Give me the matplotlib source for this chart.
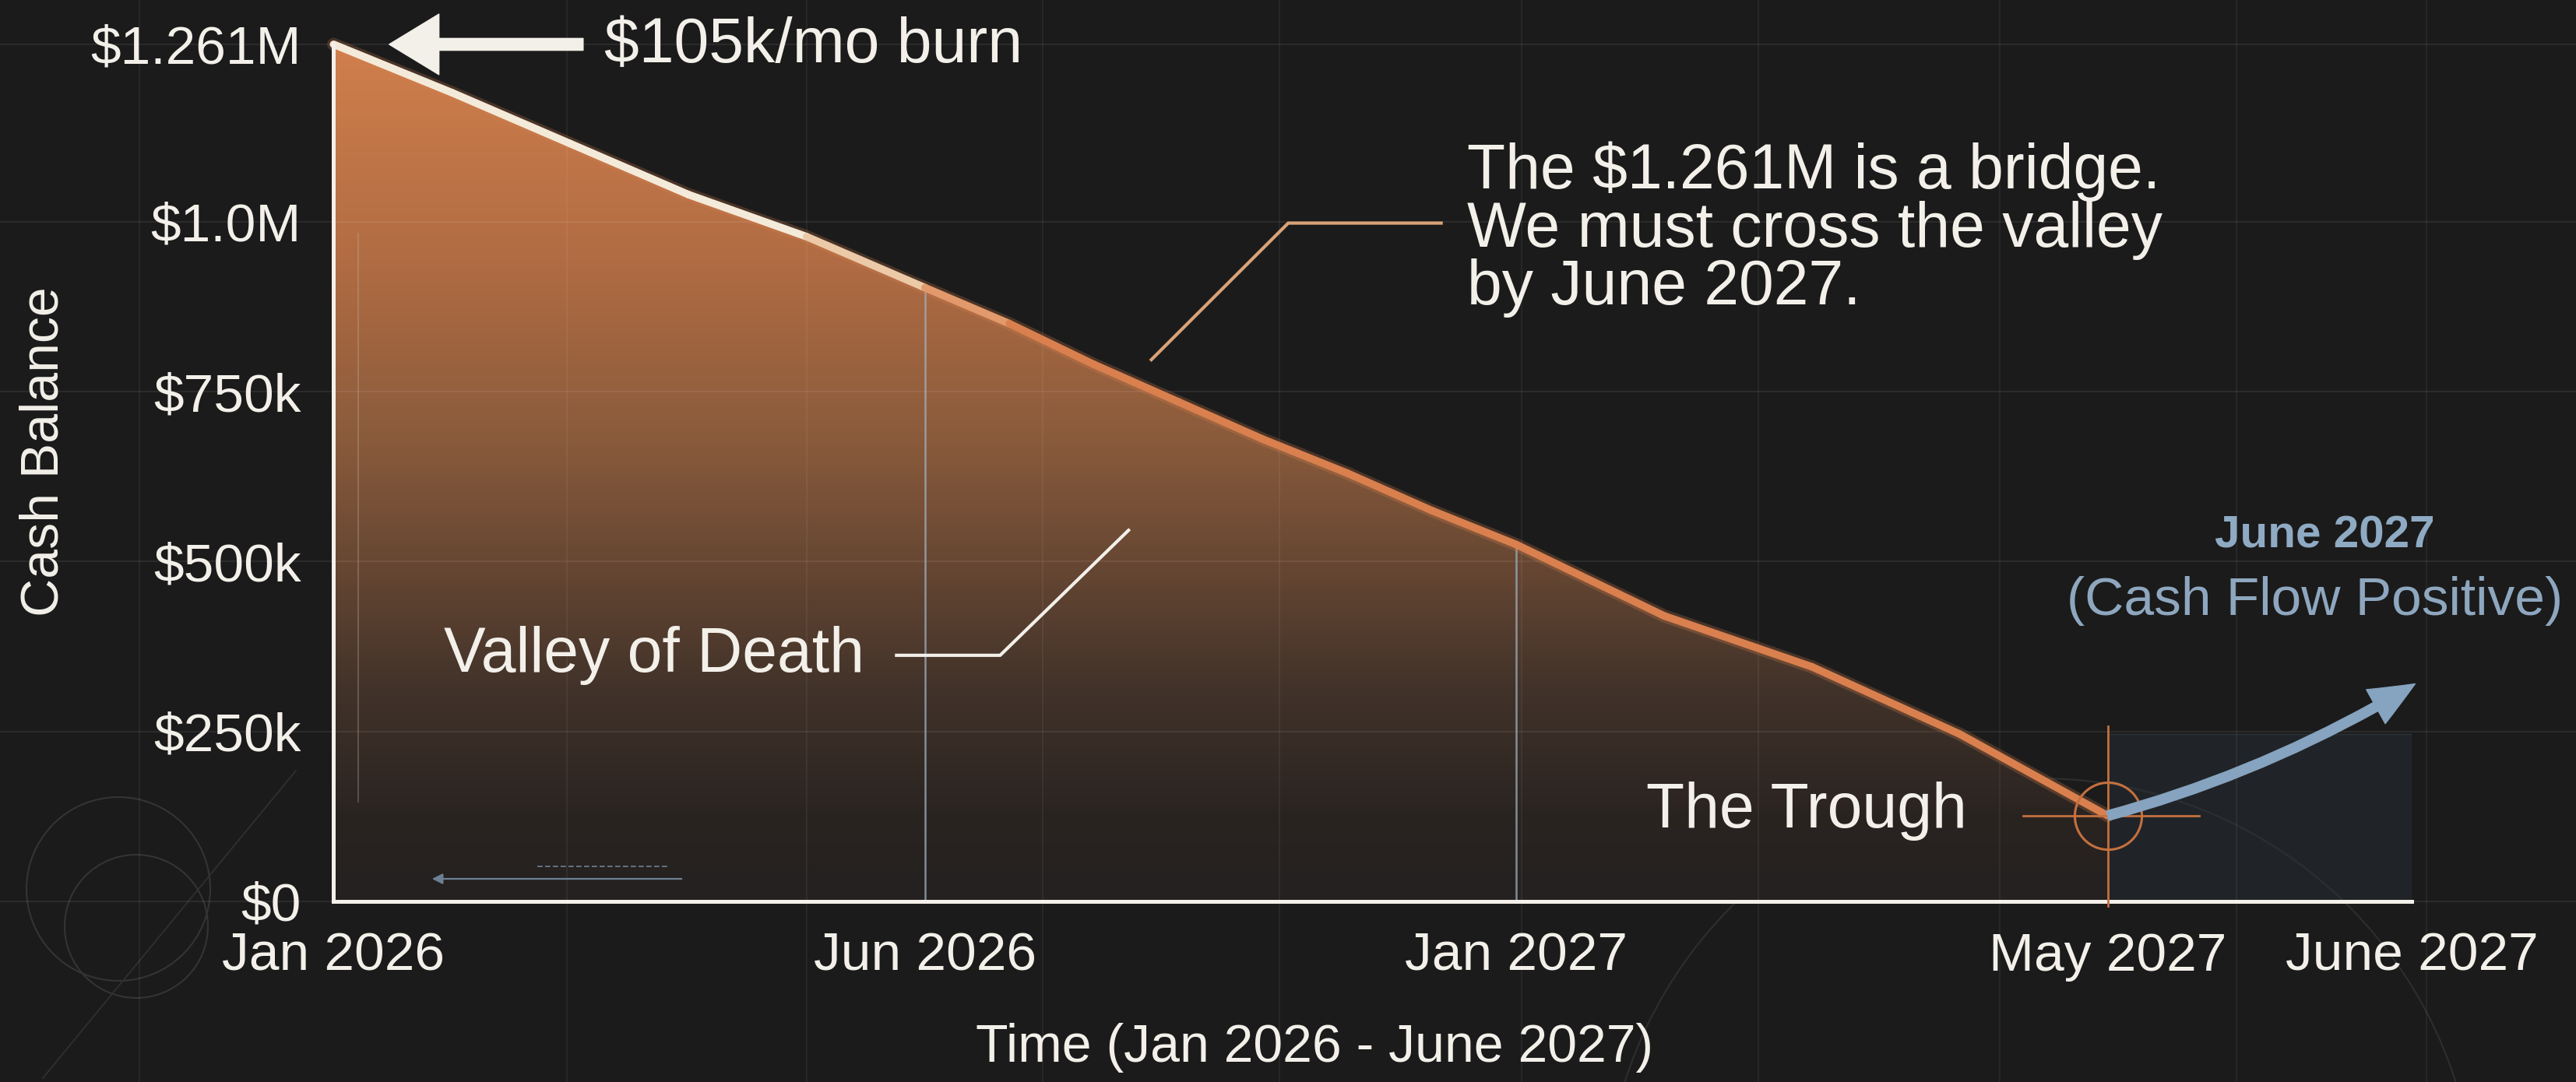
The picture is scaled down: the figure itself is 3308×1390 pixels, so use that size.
import numpy as np
import matplotlib
matplotlib.use('Agg')
import matplotlib.pyplot as plt
from matplotlib.patches import FancyArrowPatch, Circle, Rectangle, Polygon
from matplotlib.collections import LineCollection
from matplotlib.colors import LinearSegmentedColormap

plt.rcParams['font.family'] = ['Liberation Sans', 'DejaVu Sans']

# --- data (cash balance in $M, month 0 = Jan 2026) ---
months = [0, 1, 2, 3, 4, 5, 6, 7, 8, 9, 10, 11, 12, 13, 14, 15, 16]
balance = [1.261, 1.19, 1.115, 1.04, 0.978, 0.903, 0.85, 0.79, 0.735,
           0.68, 0.63, 0.575, 0.525, 0.42, 0.345, 0.246, 0.126]
proj_months = [16, 17]
proj_balance = [0.126, 0.32]

tick_months = [0, 5, 12, 16, 17]
tick_labels = ['Jan 2026', 'Jun 2026', 'Jan 2027', 'May 2027', 'June 2027']
ytick_vals = [0, 0.25, 0.5, 0.75, 1.0, 1.261]
ytick_labels = ['$0', '$250k', '$500k', '$750k', '$1.0M', '$1.261M']

W, H = 3308, 1390
BG = '#1b1b1b'
WHITE = '#f3f0ea'
ORANGE = '#d9804e'
BLUE = '#86a3bf'

fig = plt.figure(figsize=(W / 100, H / 100), dpi=100, facecolor=BG)

# background layer in pixel units for decoration
bg = fig.add_axes([0, 0, 1, 1], zorder=-10)
bg.set_xlim(0, W)
bg.set_ylim(H, 0)
bg.axis('off')
bg.set_facecolor(BG)
for c in [(152, 1142, 118), (175, 1190, 92)]:
    bg.add_patch(Circle((c[0], c[1]), c[2], fill=False, ec='#343434', lw=1.5))
bg.plot([55, 380], [1385, 990], color='#303030', lw=1.3)
bg.add_patch(Circle((2620, 1560), 560, fill=False, ec='#2e2e2e', lw=1.5))

ax = fig.add_axes([0.1295, 0.167, 0.9362 - 0.1295, 0.959 - 0.167], zorder=1)
ax.set_facecolor('none')

# labelled dates sit at equal spacing on the axis
pos_m = [-12, 0, 5, 12, 16, 17, 29]
pos_p = [-2.4, 0, 1, 2, 3, 3.514, 7.03]
ax.set_xscale('function', functions=(lambda m: np.interp(m, pos_m, pos_p),
                                      lambda p: np.interp(p, pos_p, pos_m)))

# gradient fill under the curve
cmap = LinearSegmentedColormap.from_list('valley', [
    (0.0, '#242120'), (0.1, '#2a2421'), (0.25, '#42332a'), (0.4, '#684833'),
    (0.55, '#8c5c3c'), (0.75, '#b16c43'), (1.0, '#d07f4c')])
grad = np.linspace(0, 1, 256).reshape(-1, 1)
img = ax.imshow(grad, cmap=cmap, extent=[0, 1, 0, 1], transform=ax.transAxes,
                origin='lower', aspect='auto', zorder=1)
verts = list(zip(months, balance)) + [(months[-1], 0), (months[0], 0)]
clip = Polygon(verts, closed=True, transform=ax.transData, fc='none', ec='none')
ax.add_patch(clip)
img.set_clip_path(clip)

# faint grid across the whole figure
for v in ytick_vals:
    ax.axhline(v, xmin=-0.6, xmax=1.1, color='white', alpha=0.07, lw=1.5,
               clip_on=False, zorder=1.5)
for xp in [179, 728, 1036, 1339, 1643, 1954, 2258, 2568, 2872, 3116]:
    ax.plot([xp, xp], [0, H], transform=bg.transData, color='white',
            alpha=0.06, lw=1.3, clip_on=False, zorder=1.5)

# little blueprint marks
ax.plot([460, 460], [300, 1030], transform=bg.transData, color='#c9b8a6',
        alpha=0.35, lw=1.2, clip_on=False, zorder=1.6)
ax.add_patch(FancyArrowPatch((878, 1129), (552, 1129), transform=bg.transData,
                             arrowstyle='-|>,head_width=4,head_length=8',
                             mutation_scale=1, color='#6c8194', lw=1.6,
                             clip_on=False, zorder=1.6))
ax.plot([690, 860], [1113, 1113], transform=bg.transData, color='#6c8194',
        lw=1.2, ls=(0, (4, 2)), clip_on=False, zorder=1.6)

# dark panel right of the trough
ax.add_patch(Rectangle((16, 0), 1, 0.246, fc='#283038', ec='#414c57', lw=1,
                       alpha=0.45, zorder=1.4))

# guide lines at Jun 2026 / Jan 2027
ax.vlines([months[5], months[12]], 0, [balance[5], balance[12]],
          color='#9fb0bf', alpha=0.75, lw=1.8, zorder=2)

# main burn line: cream highlight fading to orange
pts = np.column_stack([months, balance])
segs = np.stack([pts[:-1], pts[1:]], axis=1)
seg_cols = ['#f4ead9'] * 4 + ['#eccaa8', '#e29a6c'] + [ORANGE] * (len(segs) - 6)
ax.plot(months, balance, color=ORANGE, lw=12, alpha=0.25, zorder=2.5,
        solid_capstyle='round', clip_on=False)
ax.add_collection(LineCollection(segs, colors=seg_cols, linewidths=7,
                                 capstyle='round', zorder=3, clip_on=False))

# trough crosshair
ax.plot(months[-1], balance[-1], 'o', ms=62, mfc='none', mec='#c4703f',
        mew=2.2, zorder=4, clip_on=False)
ax.plot([15.43, 16.3], [balance[-1]] * 2, color='#c4703f', lw=2, zorder=4,
        clip_on=False)
ax.plot([16, 16], [-0.007, 0.258], color='#c4703f', lw=2, zorder=4,
        clip_on=False)

# projection arrow to cash flow positive
ax.add_patch(FancyArrowPatch((proj_months[0], proj_balance[0]),
                             (proj_months[1] + 0.02, proj_balance[1]),
                             connectionstyle='arc3,rad=0.07',
                             arrowstyle='simple,head_width=36,head_length=42,tail_width=9',
                             mutation_scale=1, color=BLUE, shrinkA=0, shrinkB=0,
                             zorder=5, clip_on=False))

# burn arrow at the top
ax.add_patch(FancyArrowPatch((2.11, 1.261), (0.47, 1.261),
                             arrowstyle='simple,head_width=56,head_length=46,tail_width=11',
                             mutation_scale=1, color=WHITE, shrinkA=0, shrinkB=0,
                             zorder=5, clip_on=False))
fig.text(0.2347, 0.9575, '$105k/mo burn', color=WHITE, fontsize=58,
         ha='left', va='center')

# bridge note + leader
ax.plot([7.68, 9.3, 11.11], [0.797, 0.998, 0.998], color='#d9a277', lw=3,
        zorder=4, clip_on=False)
fig.text(0.5696, 0.7878, 'The $1.261M is a bridge.\nWe must cross the valley\nby June 2027.',
         color=WHITE, fontsize=58, ha='left', va='center', linespacing=0.97)

# valley label + leader
fig.text(0.1723, 0.3942, 'Valley of Death', color=WHITE, fontsize=58,
         ha='left', va='center')
ax.plot([4.76, 5.89, 7.41], [0.362, 0.362, 0.546], color=WHITE, lw=3,
        zorder=4)

# trough label
fig.text(0.7636, 0.2504, 'The Trough', color=WHITE, fontsize=58,
         ha='right', va='center')

# cash flow positive label
fig.text(0.9026, 0.505, 'June 2027', color='#8faac3', fontsize=42,
         fontweight='bold', ha='center', va='center')
fig.text(0.8987, 0.4446, '(Cash Flow Positive)', color='#8ea7bf', fontsize=50,
         ha='center', va='center')

# axes styling
ax.set_xlim(0, 17)
ax.set_ylim(0, 1.261)
ax.set_xticks(tick_months, tick_labels)
ax.set_yticks(ytick_vals, ytick_labels)
ax.tick_params(axis='x', length=0, pad=28, labelsize=50, colors=WHITE)
ax.tick_params(axis='y', length=0, pad=30, labelsize=50, colors=WHITE)
for s in ['top', 'right']:
    ax.spines[s].set_visible(False)
for s in ['left', 'bottom']:
    ax.spines[s].set_color(WHITE)
    ax.spines[s].set_linewidth(3.6)
    ax.spines[s].set_zorder(3.5)

fig.text(0.0172, 0.5827, 'Cash Balance', color=WHITE, fontsize=49,
         rotation=90, ha='center', va='center')
fig.text(0.5103, 0.0317, 'Time (Jan 2026 - June 2027)', color=WHITE,
         fontsize=49, ha='center', va='center')

fig.savefig('out.png', dpi=100, facecolor=BG)
